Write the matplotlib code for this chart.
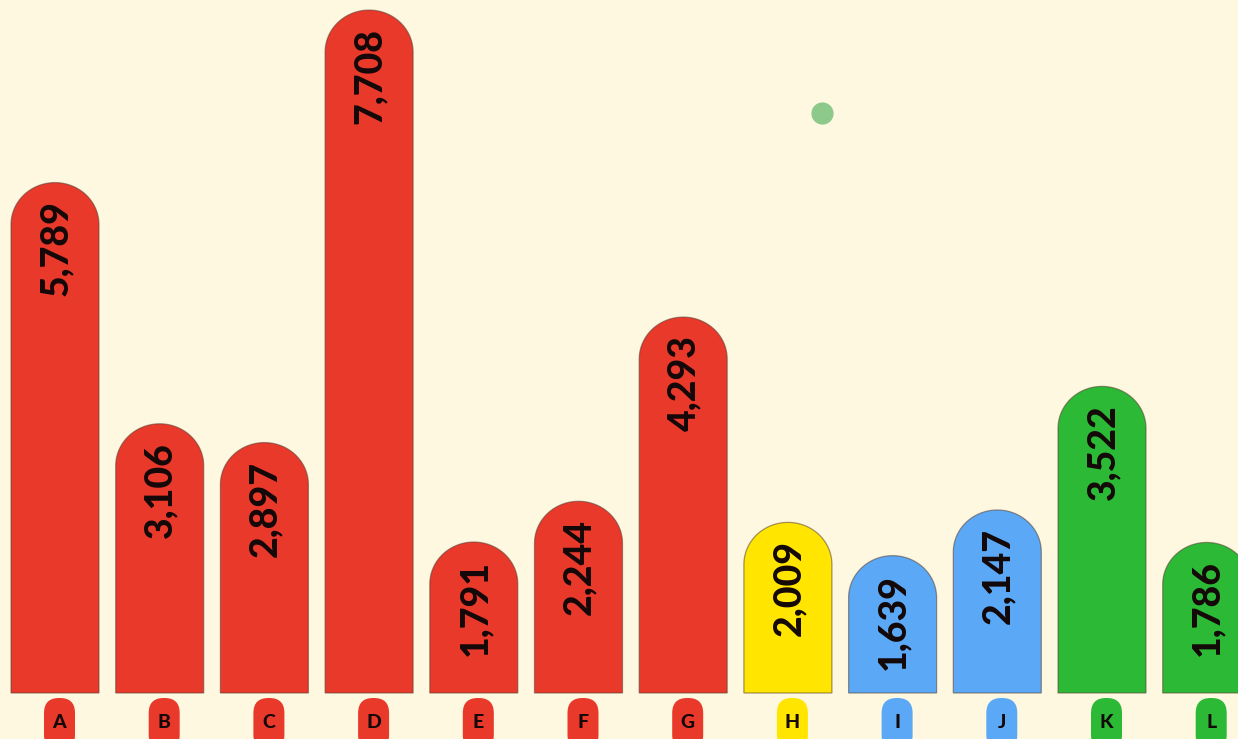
import matplotlib
matplotlib.use('Agg')
import matplotlib.pyplot as plt
from matplotlib.patches import Polygon, FancyBboxPatch
import numpy as np

categories = ['A', 'B', 'C', 'D', 'E', 'F', 'G', 'H', 'I', 'J', 'K', 'L']
values = [5789, 3106, 2897, 7708, 1791, 2244, 4293, 2009, 1639, 2147, 3522, 1786]
groups = ['red'] * 7 + ['yellow'] + ['blue'] * 2 + ['green'] * 2

palette = {'red': '#E9392B', 'yellow': '#FFE500', 'blue': '#5BA9F6', 'green': '#2BB936'}
BG = '#FFF8E1'

W, H = 1238, 739
fig = plt.figure(figsize=(W / 100, H / 100), dpi=100, facecolor=BG)
ax = fig.add_axes([0, 0, 1, 1])
ax.set_facecolor(BG)
ax.axis('off')

step_px = 104.7
first_px = 55
px_per_unit = 0.0899
zero_px = 703      # value-zero level (pixels from top)
bottom_px = 693    # visible bottom edge of bars
x0 = -first_px / step_px
x1 = (W - first_px) / step_px
y0 = -(H - zero_px) / px_per_unit
y1 = zero_px / px_per_unit
ax.set_xlim(x0, x1)
ax.set_ylim(y0, y1)

xu_per_px = 1 / step_px
yu_per_px = 1 / px_per_unit

bar_w = 88 * xu_per_px
rx = bar_w / 2
ry = 42 * yu_per_px
bar_bottom = (zero_px - bottom_px) * yu_per_px

for i, (cat, v, g) in enumerate(zip(categories, values, groups)):
    col = palette[g]
    theta = np.linspace(0, np.pi, 60)
    xs = [i + rx, i + rx] + list(i + rx * np.cos(theta)) + [i - rx]
    ys = [bar_bottom, v - ry] + list(v - ry + ry * np.sin(theta)) + [bar_bottom]
    poly = Polygon(np.column_stack([xs, ys]), closed=True, facecolor=col,
                   edgecolor=(0.35, 0.25, 0.2, 0.55), linewidth=0.9, zorder=2)
    ax.add_patch(poly)
    ax.annotate(f'{v:,}', xy=(i, v), xytext=(1, -18), textcoords='offset pixels',
                rotation=90, ha='center', va='top', fontsize=27,
                fontweight='black', family=['Lato', 'DejaVu Sans'],
                color='#140808', zorder=3)
    # category badge
    bw = 31 * xu_per_px
    bh = 52 * yu_per_px
    bx = i + 4.5 * xu_per_px - bw / 2
    by = (zero_px - 698) * yu_per_px - bh
    badge = FancyBboxPatch((bx, by), bw, bh,
                           boxstyle=f'round,pad=0,rounding_size={15 * xu_per_px}',
                           mutation_aspect=yu_per_px / xu_per_px,
                           facecolor=col, edgecolor='none', zorder=2)
    ax.add_patch(badge)
    ax.annotate(cat, xy=(i, 0), xytext=(4.5, -(722 - zero_px)), textcoords='offset pixels',
                ha='center', va='center', fontsize=14, fontweight='black',
                family=['Lato', 'DejaVu Sans'], color='#140808', zorder=3)

ax.plot([822 / W], [1 - 113 / H], 'o', transform=ax.transAxes, ms=16,
        color='#8DC98B', mec='none', zorder=4)

fig.savefig('out.png', dpi=100, facecolor=BG)
